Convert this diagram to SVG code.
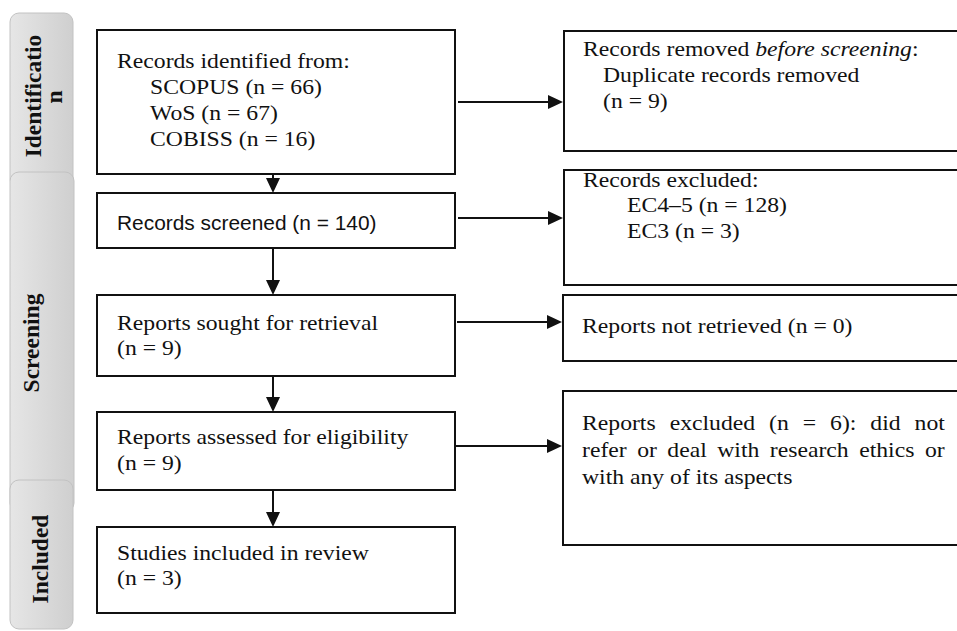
<svg xmlns="http://www.w3.org/2000/svg" width="957" height="631" viewBox="0 0 957 631">
<style>
.box{fill:#fff;stroke:#111;stroke-width:2}
.tab{fill:url(#tg);stroke:#c2c2c2;stroke-width:1}
.t{font-family:"Liberation Serif","Times New Roman",serif;font-size:20px;fill:#111}
.s{font-family:"Liberation Sans",Arial,sans-serif;font-size:19.5px;fill:#111}
.tt{font-family:"Liberation Serif","Times New Roman",serif;font-size:23.5px;font-weight:bold;fill:#111;text-anchor:middle}
.c{stroke:#111;stroke-width:2;fill:none;marker-end:url(#ah)}
</style>
<defs>
<linearGradient id="tg" x1="0" y1="0" x2="1" y2="0">
<stop offset="0" stop-color="#e6e6e6"/>
<stop offset="1" stop-color="#cfcfcf"/>
</linearGradient>
<marker id="ah" markerUnits="userSpaceOnUse" markerWidth="16" markerHeight="14" refX="13" refY="7" orient="auto">
<path d="M0,0 L15,7 L0,14 z" fill="#111"/>
</marker>
</defs>
<rect width="957" height="631" fill="#fff"/>

<g id="tab-identification">
<rect class="tab" x="10" y="13" width="63" height="175" rx="9"/>
<text class="tt" transform="translate(41,96) rotate(-90)">Identificatio</text>
<text class="tt" transform="translate(62,97) rotate(-90)">n</text>
</g>
<g id="tab-screening">
<rect class="tab" x="10" y="172" width="64" height="340" rx="9"/>
<text class="tt" transform="translate(39,343) rotate(-90)">Screening</text>
</g>
<g id="tab-included">
<rect class="tab" x="10" y="480" width="63" height="149" rx="9"/>
<text class="tt" transform="translate(48,559) rotate(-90)">Included</text>
</g>

<g id="identified">
<rect class="box" x="97" y="30" width="358" height="144"/>
<text class="t" transform="translate(117,68) scale(1.185,1)">Records identified from:</text>
<text class="t" transform="translate(150,94) scale(1.185,1)">SCOPUS (n = 66)</text>
<text class="t" transform="translate(150,120) scale(1.185,1)">WoS (n = 67)</text>
<text class="t" transform="translate(150,146) scale(1.185,1)">COBISS (n = 16)</text>
</g>
<g id="removed">
<rect class="box" x="564" y="31" width="410" height="120"/>
<text class="t" transform="translate(583,56) scale(1.185,1)">Records removed <tspan font-style="italic">before screening</tspan>:</text>
<text class="t" transform="translate(603,82) scale(1.185,1)">Duplicate records removed</text>
<text class="t" transform="translate(603,108) scale(1.185,1)">(n = 9)</text>
</g>
<g id="screened">
<rect class="box" x="97" y="193" width="358" height="55"/>
<text class="s" transform="translate(117,230) scale(1.185,1)" textLength="219" lengthAdjust="spacingAndGlyphs">Records screened (n = 140)</text>
</g>
<g id="excluded">
<rect class="box" x="564" y="170" width="410" height="115"/>
<text class="t" transform="translate(583,187) scale(1.185,1)">Records excluded:</text>
<text class="t" transform="translate(627,212) scale(1.185,1)">EC4–5 (n = 128)</text>
<text class="t" transform="translate(627,238) scale(1.185,1)">EC3 (n = 3)</text>
</g>
<g id="sought">
<rect class="box" x="97" y="295" width="358" height="81"/>
<text class="t" transform="translate(117,330) scale(1.185,1)">Reports sought for retrieval</text>
<text class="t" transform="translate(117,355) scale(1.185,1)">(n = 9)</text>
</g>
<g id="not-retrieved">
<rect class="box" x="563" y="295" width="411" height="66"/>
<text class="t" transform="translate(582,333) scale(1.185,1)">Reports not retrieved (n = 0)</text>
</g>
<g id="assessed">
<rect class="box" x="97" y="412" width="358" height="78"/>
<text class="t" transform="translate(117,444) scale(1.185,1)">Reports assessed for eligibility</text>
<text class="t" transform="translate(117,470) scale(1.185,1)">(n = 9)</text>
</g>
<g id="reports-excluded">
<rect class="box" x="563" y="391" width="411" height="154"/>
<text class="t" transform="translate(582,430) scale(1.185,1)" word-spacing="6.8">Reports excluded (n = 6): did not</text>
<text class="t" transform="translate(582,457) scale(1.185,1)" word-spacing="3.85">refer or deal with research ethics or</text>
<text class="t" transform="translate(582,484) scale(1.185,1)">with any of its aspects</text>
</g>
<g id="included">
<rect class="box" x="97" y="527" width="358" height="86"/>
<text class="t" transform="translate(117,560) scale(1.185,1)">Studies included in review</text>
<text class="t" transform="translate(117,585) scale(1.185,1)">(n = 3)</text>
</g>

<g id="connectors">
<line class="c" x1="273" y1="175" x2="273" y2="191"/>
<line class="c" x1="273" y1="249" x2="273" y2="293"/>
<line class="c" x1="273" y1="377" x2="273" y2="410"/>
<line class="c" x1="273" y1="491" x2="273" y2="525"/>
<line class="c" x1="458" y1="102" x2="561" y2="102"/>
<line class="c" x1="458" y1="218" x2="561" y2="218"/>
<line class="c" x1="457" y1="322" x2="560" y2="322"/>
<line class="c" x1="456" y1="446" x2="560" y2="446"/>
</g>
</svg>
